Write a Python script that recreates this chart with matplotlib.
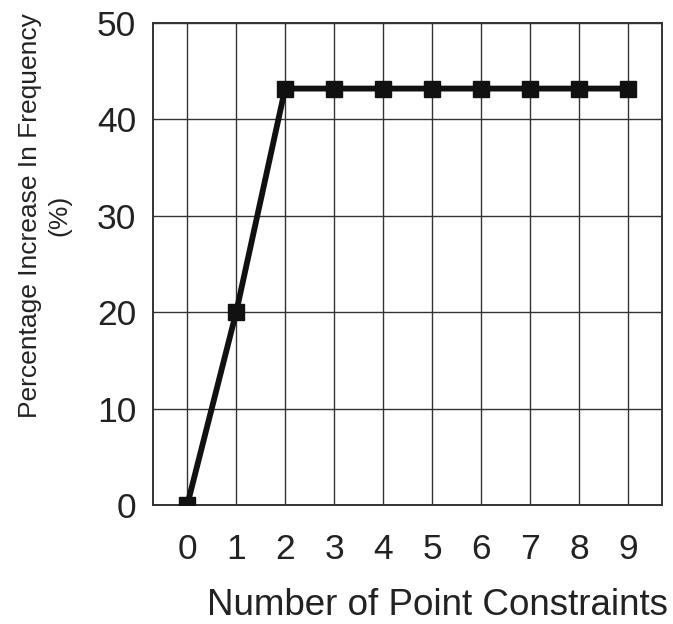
import matplotlib
matplotlib.use("Agg")
import matplotlib.pyplot as plt

constraints = [0, 1, 2, 3, 4, 5, 6, 7, 8, 9]
freq_increase = [0, 20, 43.2, 43.2, 43.2, 43.2, 43.2, 43.2, 43.2, 43.2]
y_ticks = [0, 10, 20, 30, 40, 50]

plt.rcParams['font.family'] = ['Liberation Sans', 'DejaVu Sans']

fig = plt.figure(figsize=(6.73, 6.24), dpi=100)
ax = fig.add_axes([0.2273, 0.1907, 0.7564, 0.7724])

ax.plot(constraints, freq_increase, color='#111111', linewidth=4.2,
        marker='s', markersize=11, markerfacecolor='#111111',
        markeredgecolor='#111111', zorder=3)

ax.set_xlim(-0.7, 9.7)
ax.set_ylim(0, 50)
ax.set_xticks(constraints)
ax.set_yticks(y_ticks)
ax.tick_params(axis='both', length=0, labelsize=25.5, colors='#222222')
ax.tick_params(axis='x', pad=20)
ax.tick_params(axis='y', pad=12)
ax.grid(True, color='#333333', linewidth=1.0)
ax.set_axisbelow(True)
for sp in ax.spines.values():
    sp.set_color('#333333')
    sp.set_linewidth(1.4)

fig.text(0.650, 0.030, 'Number of Point Constraints', ha='center',
         va='center', fontsize=26.5, color='#222222')
fig.text(0.066, 0.655, 'Percentage Increase In Frequency\n(%)',
         rotation=90, ha='center', va='center', fontsize=19,
         color='#222222', linespacing=1.3, multialignment='center')

fig.savefig('out.png', dpi=100)
